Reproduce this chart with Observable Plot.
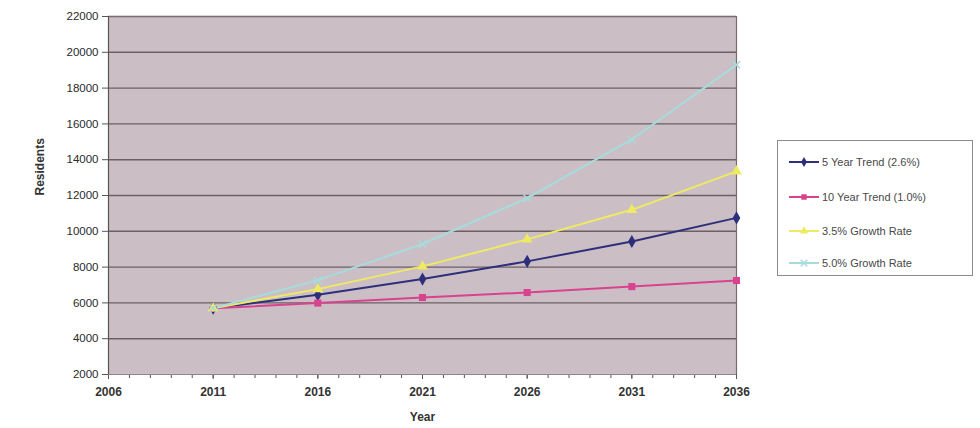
<!DOCTYPE html>
<html><head><meta charset="utf-8">
<script src="https://cdn.jsdelivr.net/npm/d3@7"></script>
<script src="https://cdn.jsdelivr.net/npm/@observablehq/plot@0.6"></script>
<style>
body{margin:0;background:#fff;font-family:"Liberation Sans",Arial,sans-serif;}
#wrap{position:relative;width:980px;height:428px;overflow:hidden;}
#legend{position:absolute;left:777px;top:140px;width:196px;height:136px;border:1px solid #8c8c8c;background:#fff;box-sizing:border-box;}
.item{position:absolute;left:10px;height:14px;display:flex;align-items:center;font-size:11px;color:#484848;white-space:nowrap;}
.item svg{margin-right:2px;}
</style></head><body><div id="wrap"><div id="legend"></div></div>
<script>
const years = [2011, 2016, 2021, 2026, 2031, 2036];
const seriesNames = ["5 Year Trend (2.6%)", "10 Year Trend (1.0%)", "3.5% Growth Rate", "5.0% Growth Rate"];
const trend5  = [5700, 6450, 7330, 8320, 9430, 10750];
const trend10 = [5700, 5990, 6300, 6580, 6910, 7250];
const growth35 = [5700, 6770, 8040, 9550, 11200, 13350];
const growth50 = [5700, 7270, 9290, 11850, 15130, 19300];
const xTicks = [2006, 2011, 2016, 2021, 2026, 2031, 2036];
const yTicks = [2000, 4000, 6000, 8000, 10000, 12000, 14000, 16000, 18000, 20000, 22000];

const colors = ["#2e2f7c", "#d9428f", "#eeea62", "#a6dcdc"];
const symbols = ["diamond", "square", "triangle", "times"];
const allValues = [trend5, trend10, growth35, growth50];

const data = [];
allValues.forEach((vals, si) => years.forEach((yr, i) => data.push({year: yr, value: vals[i], series: seriesNames[si]})));
const minorYears = d3.range(xTicks[0], xTicks[xTicks.length - 1] + 1);

const chart = Plot.plot({
  width: 980, height: 428,
  marginLeft: 108, marginRight: 244, marginTop: 16, marginBottom: 54,
  style: {fontFamily: "Liberation Sans, Arial, sans-serif", fontSize: "11.5px", color: "#222", background: "transparent", overflow: "visible"},
  x: {domain: [2006, 2036], label: null},
  y: {domain: [2000, 22000], label: null},
  color: {domain: seriesNames, range: colors},
  symbol: {domain: seriesNames, range: symbols},
  marks: [
    Plot.frame({fill: "#cbbfc5", stroke: null}),
    Plot.gridY(yTicks.slice(1), {stroke: "#6e5f66", strokeOpacity: 1, strokeWidth: 1.4}),
    Plot.ruleY([22000], {stroke: "#7a6a72", strokeWidth: 1.2}),
    Plot.ruleX([2036], {stroke: "#7a6a72", strokeWidth: 1.2}),
    Plot.axisX(minorYears, {tickSize: 4, text: null, stroke: "#555"}),
    Plot.axisX(xTicks, {tickSize: 5, tickPadding: 8, tickFormat: d => String(d), fontSize: 12, fontWeight: "bold", fill: "#333", stroke: "#555"}),
    Plot.axisY(yTicks, {tickSize: 6, tickPadding: 4, tickFormat: d => String(d), fontSize: 11.5, fill: "#2a2a2a", stroke: "#555"}),
    Plot.ruleX([2006], {stroke: "#555", strokeWidth: 1.2}),
    Plot.ruleY([2000], {stroke: "#888", strokeWidth: 1}),
    Plot.line(data, {x: "year", y: "value", z: "series", stroke: "series", strokeWidth: 2}),
    Plot.dot(data.filter(d => d.series !== seriesNames[3]), {x: "year", y: "value", fill: "series", symbol: "series", r: 4}),
    Plot.dot(data.filter(d => d.series === seriesNames[3]), {x: "year", y: "value", stroke: "series", symbol: "series", r: 3.5, strokeWidth: 1.5}),
    Plot.text(["Year"], {frameAnchor: "bottom", dy: 46, fontWeight: "bold", fontSize: 12, fill: "#333"}),
    Plot.text(["Residents"], {frameAnchor: "left", dx: -68, rotate: -90, fontWeight: "bold", fontSize: 12, fill: "#333"})
  ]
});
document.getElementById("wrap").prepend(chart);

const legend = document.getElementById("legend");
const tops = [14, 49, 83, 115];
const symMap = {"diamond": d3.symbolDiamond, "square": d3.symbolSquare, "triangle": d3.symbolTriangle, "times": d3.symbolTimes};
seriesNames.forEach((name, i) => {
  const div = document.createElement("div");
  div.className = "item";
  div.style.top = tops[i] + "px";
  const sym = d3.symbol(symMap[symbols[i]], 30)();
  const filled = symbols[i] !== "times";
  div.innerHTML = `<svg width="32" height="14"><line x1="1" y1="7" x2="31" y2="7" stroke="${colors[i]}" stroke-width="2"/><path transform="translate(16,7)" d="${sym}" ${filled ? `fill="${colors[i]}"` : `fill="none" stroke="${colors[i]}" stroke-width="1.5"`}/></svg>${name}`;
  legend.appendChild(div);
});
</script>
</body></html>
